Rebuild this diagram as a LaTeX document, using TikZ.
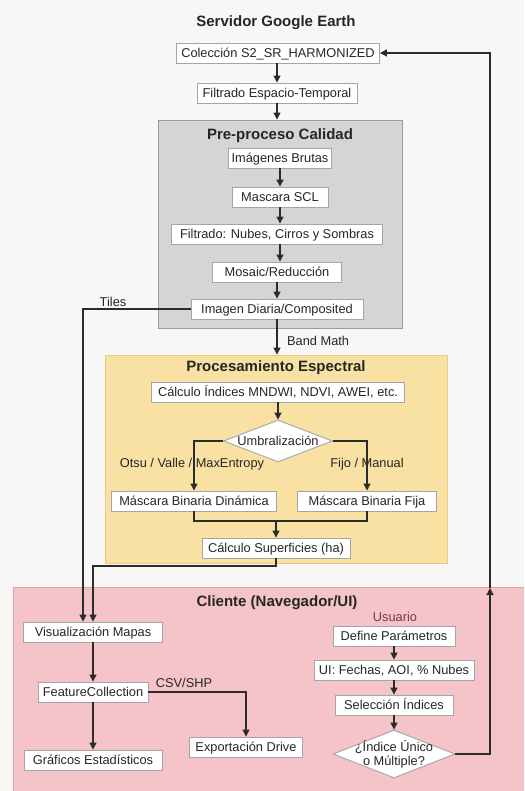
\documentclass[tikz,border=0pt]{standalone}
\usepackage{fontspec}
\setmainfont{Liberation Sans}
\usetikzlibrary{arrows.meta,shapes.geometric}
\definecolor{bgc}{HTML}{F7F7F5}
\definecolor{boxborder}{HTML}{A5A5A5}
\definecolor{grayfill}{HTML}{D5D5D5}
\definecolor{grayline}{HTML}{9C9C9C}
\definecolor{yelfill}{HTML}{F8E1A2}
\definecolor{yelline}{HTML}{EACB7A}
\definecolor{pinkfill}{HTML}{F4C4C8}
\definecolor{pinkline}{HTML}{D9A2A8}
\definecolor{linec}{HTML}{2B2B2B}
\definecolor{maroon}{HTML}{7A3848}
\begin{document}
\begin{tikzpicture}[x=1pt,y=-1pt,
  txt/.style={font=\fontsize{12.8}{14}\selectfont, text=black!85},
  box/.style={txt, draw=boxborder, fill=white, line width=0.9pt, minimum height=20pt, inner xsep=3pt, inner ysep=2pt, text height=11pt, text depth=1.8pt},
  ttl/.style={font=\bfseries\fontsize{15}{17}\selectfont, text=black!85},
  grp/.style={minimum width=#1, inner sep=0pt, line width=0.9pt},
  diam/.style={diamond, draw=boxborder, fill=white, line width=0.9pt, inner sep=0pt},
  lbl/.style={txt, inner sep=1pt},
  arr/.style={draw=linec, line width=1.2pt, -{Triangle[length=7pt,width=7pt]}},
  ln/.style={draw=linec, line width=1.2pt}
]
\fill[bgc] (0,0) rectangle (524,791);
\useasboundingbox (0,0) rectangle (524,791);
\clip (0,0) rectangle (524,791);

% group panels
\node[grp=244pt, minimum height=208pt, draw=grayline, fill=grayfill] (pre) at (280,224) {};
\node[grp=342pt, minimum height=208pt, draw=yelline, fill=yelfill] (esp) at (276,459) {};
\node[grp=520pt, minimum height=215pt, draw=pinkline, fill=pinkfill, anchor=north west] (cli) at (13,587) {};

% titles
\node[ttl] (t1) at (276,23) {Servidor Google Earth};
\node[ttl] (t2) at (280,136) {Pre-proceso Calidad};
\node[ttl] (t3) at (276,368) {Procesamiento Espectral};
\node[ttl] (t4) at (277,603) {Cliente (Navegador/UI)};

% server column
\node[box, minimum width=203pt] (col) at (278,53) {Colección S2\_SR\_HARMONIZED};
\node[box, minimum width=160pt] (fil) at (277,93) {Filtrado Espacio-Temporal};
\node[box, minimum width=103pt] (img) at (280,158) {Imágenes Brutas};
\node[box, minimum width=96pt] (scl) at (280,197) {Mascara SCL};
\node[box, minimum width=211pt] (nub) at (277,234) {Filtrado: Nubes, Cirros y Sombras};
\node[box, minimum width=129pt] (mos) at (277,272) {Mosaic/Reducción};
\node[box, minimum width=172pt] (dia) at (277,309) {Imagen Diaria/Composited};

% spectral
\node[box, minimum width=253pt] (idx) at (278,392) {Cálculo Índices MNDWI, NDVI, AWEI, etc.};
\node[diam, minimum width=109pt, minimum height=42pt, label={[txt]center:Umbralización}] (umb) at (278,441) {};
\node[box, minimum width=165pt] (din) at (194,501) {Máscara Binaria Dinámica};
\node[box, minimum width=139pt] (fija) at (367,501) {Máscara Binaria Fija};
\node[box, minimum width=148pt] (sup) at (276,548) {Cálculo Superficies (ha)};

% client
\node[box, minimum width=139pt] (vis) at (93,632) {Visualización Mapas};
\node[box, minimum width=110pt] (fc) at (93,692) {FeatureCollection};
\node[box, minimum width=138pt] (graf) at (93,760) {Gráficos Estadísticos};
\node[box, minimum width=113pt] (exp) at (246,747) {Exportación Drive};
\node[lbl, text=maroon] (usu) at (395,617) {Usuario};
\node[box, minimum width=122pt] (def) at (394,636) {Define Parámetros};
\node[box, minimum width=160pt] (ui) at (394,670) {UI: Fechas, AOI, \% Nubes};
\node[box, minimum width=118pt] (sel) at (394,705) {Selección Índices};
\node[diam, minimum width=122pt, minimum height=48pt, label={[txt, align=center]center:¿Índice Único\\o Múltiple?}] (q) at (394,754) {};

% labels
\node[lbl] (tiles) at (113,302) {Tiles};
\node[lbl, anchor=west] (band) at (286,341) {Band Math};
\node[lbl] (otsu) at (192,464) {Otsu / Valle / MaxEntropy};
\node[lbl] (fijo) at (367,464) {Fijo / Manual};
\node[lbl] (csv) at (184,683) {CSV/SHP};

% coordinates
\coordinate (m) at (276,521);
\coordinate (k) at (93,566);
\coordinate (rmid) at (490,588);

% connectors
\draw[arr] (col.south -| fil.north) -- (fil.north);
\draw[arr] (fil.south) -- (fil.south |- pre.north);
\draw[arr] (img.south) -- (scl.north -| img.south);
\draw[arr] (scl.south) -- (scl.south |- nub.north);
\draw[arr] (nub.south -| scl.south) -- (scl.south |- mos.north);
\draw[arr] (mos.south) -- (dia.north);
\draw[arr] (dia.south) -- (dia.south |- esp.north);
\draw[arr] (idx.south) -- (umb.north);
\draw[arr] (umb.west) -| (din.north);
\draw[arr] (umb.east) -| (fija.north);
\draw[ln] (din.south) |- (m) -| (fija.south);
\draw[arr] (m) -- (sup.north);
\draw[arr] (sup.south) |- (k) -- (vis.north);
\draw[arr] (dia.west) -| ([xshift=-10pt]vis.north);
\draw[arr] (vis.south) -- (fc.north);
\draw[arr] (fc.south) -- (graf.north);
\draw[arr] (fc.east) -| (exp.north);
\draw[arr] (def.south) -- (ui.north);
\draw[arr] (ui.south) -- (sel.north);
\draw[arr] (sel.south) -- (q.north);
\draw[arr] (q.east) -| (rmid);
\draw[arr] (rmid) |- (col.east);
\end{tikzpicture}
\end{document}
